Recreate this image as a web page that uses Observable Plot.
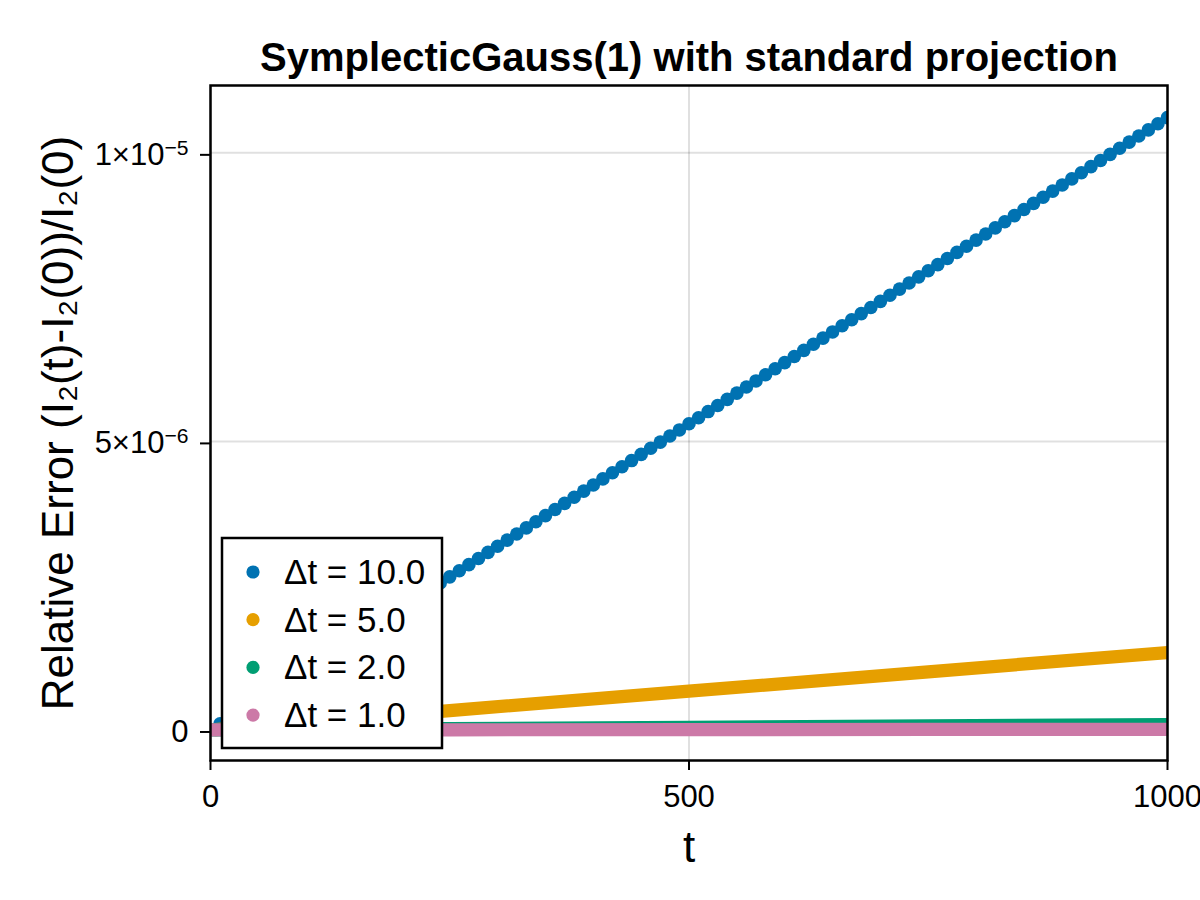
<!DOCTYPE html>
<html>
<head>
<meta charset="utf-8">
<script src="https://cdn.jsdelivr.net/npm/d3@7"></script>
<script src="https://cdn.jsdelivr.net/npm/@observablehq/plot@0.6"></script>
<style>
  html, body { margin: 0; padding: 0; background: #fff; overflow: hidden; }
  #chart { position: relative; width: 1200px; height: 900px; overflow: hidden; }
</style>
</head>
<body>
<div id="chart"></div>
<script>
// ---------------- data ----------------
const titleText = "SymplecticGauss(1) with standard projection";
const xLabelText = "t";
const yLabelText = "Relative Error (I₂(t)-I₂(0))/I₂(0)";

const seriesLabels = ["Δt = 10.0", "Δt = 5.0", "Δt = 2.0", "Δt = 1.0"];
const seriesColors = ["#0072B2", "#E69F00", "#009E73", "#CC79A7"];

const xTicks = [0, 500, 1000];
const yTicks = [0, 5e-6, 1e-5];
const yTickLabels = ["0", "5×10^−6", "1×10^−5"];

// Δt = 10.0 : t = 10, 20, ..., 1000 ; error values in units of 1e-6
const blueT = d3.range(10, 1001, 10);
const blueErrMicro = [
  0.106, 0.212, 0.318, 0.424, 0.531, 0.637, 0.743, 0.849, 0.955, 1.061,
  1.167, 1.273, 1.379, 1.485, 1.592, 1.698, 1.804, 1.910, 2.016, 2.122,
  2.228, 2.334, 2.440, 2.546, 2.653, 2.759, 2.865, 2.971, 3.077, 3.183,
  3.289, 3.395, 3.501, 3.607, 3.714, 3.820, 3.926, 4.032, 4.138, 4.244,
  4.350, 4.456, 4.562, 4.668, 4.775, 4.881, 4.987, 5.093, 5.199, 5.305,
  5.411, 5.517, 5.623, 5.729, 5.836, 5.942, 6.048, 6.154, 6.260, 6.366,
  6.472, 6.578, 6.684, 6.790, 6.897, 7.003, 7.109, 7.215, 7.321, 7.427,
  7.533, 7.639, 7.745, 7.851, 7.958, 8.064, 8.170, 8.276, 8.382, 8.488,
  8.594, 8.700, 8.806, 8.912, 9.019, 9.125, 9.231, 9.337, 9.443, 9.549,
  9.655, 9.761, 9.867, 9.973, 10.080, 10.186, 10.292, 10.398, 10.504, 10.610
];

// dense series (markers overlap into a continuous band) read at a few t values
const orangeT = [5, 250, 500, 750, 1000];
const orangeErrMicro = [0.0067, 0.336, 0.672, 1.007, 1.343];
const greenT = [2, 250, 500, 750, 1000];
const greenErrMicro = [0.0002, 0.024, 0.0475, 0.071, 0.095];
const pinkT = [1, 250, 500, 750, 1000];
const pinkErrMicro = [0.0, 0.003, 0.006, 0.009, 0.012];

const toRows = (ts, vs) => ts.map((t, i) => ({t, v: vs[i] * 1e-6}));
const blueData = toRows(blueT, blueErrMicro);
const orangeData = toRows(orangeT, orangeErrMicro);
const greenData = toRows(greenT, greenErrMicro);
const pinkData = toRows(pinkT, pinkErrMicro);

// ---------------- chart ----------------
const FONT = "'Liberation Sans', Arimo, Helvetica, Arial, sans-serif";
const gridStyle = {stroke: "#000", strokeOpacity: 0.12, strokeWidth: 2};
const bandWidth = 13.2;

const plot = Plot.plot({
  width: 1200,
  height: 900,
  marginLeft: 210,
  marginRight: 33,
  marginTop: 85,
  marginBottom: 140,
  style: {fontFamily: FONT, background: "#fff", color: "#000", overflow: "hidden"},
  x: {domain: [0, 1000]},
  y: {domain: [-5.29e-7, 1.1167e-5]},
  marks: [
    Plot.gridX(xTicks, gridStyle),
    Plot.gridY(yTicks, gridStyle),
    Plot.dot(blueData, {x: "t", y: "v", r: 6.8, fill: seriesColors[0], clip: true}),
    Plot.line(orangeData, {x: "t", y: "v", stroke: seriesColors[1], strokeWidth: bandWidth, strokeLinecap: "round", clip: true}),
    Plot.line(greenData, {x: "t", y: "v", stroke: seriesColors[2], strokeWidth: bandWidth, strokeLinecap: "round", clip: true}),
    Plot.line(pinkData, {x: "t", y: "v", stroke: seriesColors[3], strokeWidth: bandWidth, strokeLinecap: "round", clip: true}),
    Plot.frame({stroke: "#000", strokeWidth: 2.5}),
    Plot.axisX(xTicks, {tickSize: 10, tickPadding: 14, fontSize: 31, strokeWidth: 2, label: null, tickFormat: d => String(d)}),
    Plot.axisY(yTicks, {tickSize: 10, tickPadding: 12, fontSize: 31, strokeWidth: 2, label: null, dy: 2,
      tickFormat: d => yTickLabels[yTicks.indexOf(d)]}),
    Plot.text([titleText], {text: d => d, frameAnchor: "top", lineAnchor: "middle", textAnchor: "middle",
      dy: -27.8, fontSize: 40, fontWeight: "bold"}),
    Plot.text([xLabelText], {text: d => d, frameAnchor: "bottom", lineAnchor: "middle", textAnchor: "middle",
      dy: 87, fontSize: 44}),
    Plot.text([yLabelText], {text: d => d, frameAnchor: "left", lineAnchor: "middle", textAnchor: "middle",
      dx: -152, rotate: -90, fontSize: 44})
  ]
});

document.getElementById("chart").appendChild(plot);

// superscript exponents in y tick labels
d3.select(plot).selectAll('g[aria-label="y-axis tick label"] text').each(function () {
  const s = this.textContent;
  const k = s.indexOf("^");
  if (k < 0) return;
  this.textContent = s.slice(0, k);
  d3.select(this).append("tspan")
    .attr("dy", "-0.48em")
    .attr("font-size", "0.68em")
    .text(s.slice(k + 1));
});

// legend (inside plot, lower-left)
const svg = d3.select(plot);
const lg = svg.append("g").attr("class", "legend");
lg.append("rect")
  .attr("x", 222).attr("y", 538).attr("width", 220).attr("height", 210)
  .attr("fill", "#fff").attr("stroke", "#000").attr("stroke-width", 2.5);
seriesLabels.forEach((lab, i) => {
  const cy = 572 + i * 47.7;
  lg.append("circle").attr("cx", 253).attr("cy", cy).attr("r", 6.6).attr("fill", seriesColors[i]);
  lg.append("text").attr("x", 284).attr("y", cy + 12)
    .attr("text-anchor", "start")
    .attr("font-family", FONT).attr("font-size", 35).attr("fill", "#000").text(lab);
});
</script>
</body>
</html>
